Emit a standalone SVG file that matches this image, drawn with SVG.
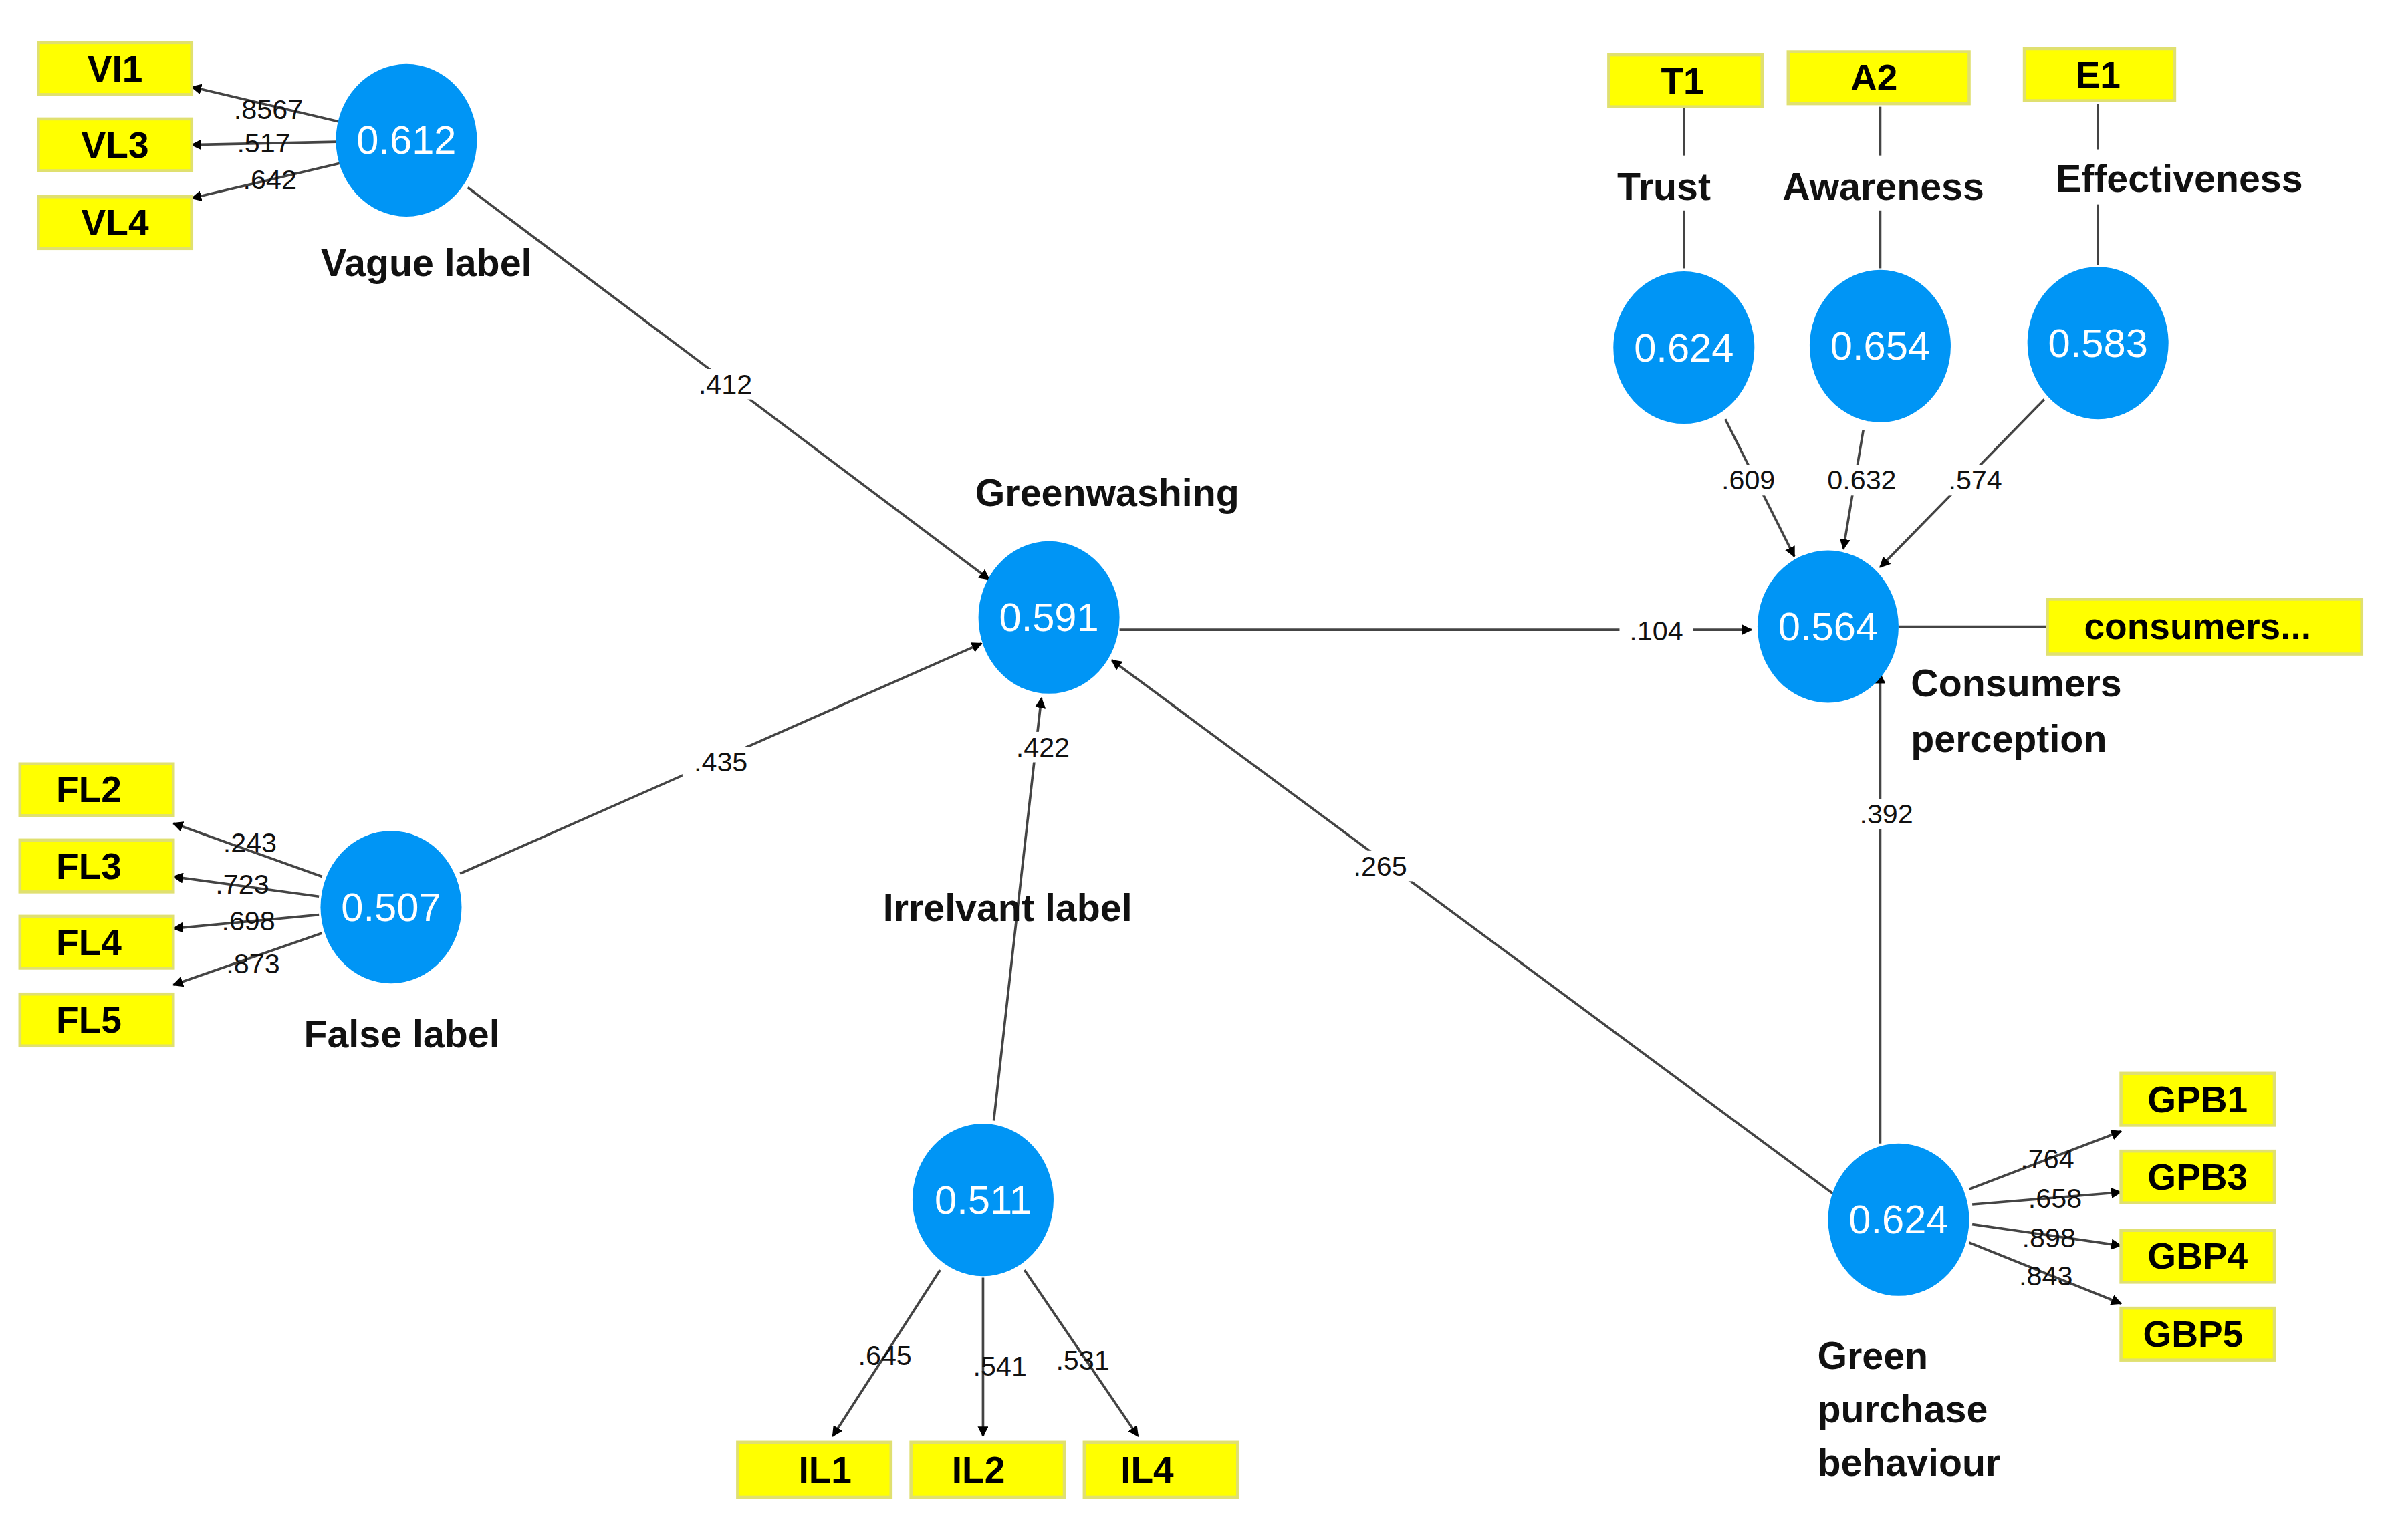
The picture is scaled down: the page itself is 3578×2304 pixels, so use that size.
<svg xmlns="http://www.w3.org/2000/svg" width="3578" height="2304" viewBox="0 0 3578 2304">
<style>
.c{fill:#0095f5}
.cv{font:26px "Liberation Sans",Arial,sans-serif;fill:#fff;text-anchor:middle;dominant-baseline:central}
.b{fill:#ffff00;stroke:#e0e070;stroke-width:2}
.bt{font:bold 24px "Liberation Sans",Arial,sans-serif;fill:#000;text-anchor:middle;dominant-baseline:central}
.lb{font:bold 25px "Liberation Sans",Arial,sans-serif;fill:#111}
.w{font:18px "Liberation Sans",Arial,sans-serif;fill:#111;text-anchor:middle;dominant-baseline:central}
.l{stroke:#444;stroke-width:1.6;fill:none}
.a{marker-end:url(#ar)}
</style>
<defs><marker id="ar" viewBox="0 0 10 10" refX="9" refY="5" markerWidth="7" markerHeight="7" orient="auto" markerUnits="userSpaceOnUse"><path d="M0,0L10,5L0,10z" fill="#000"/></marker></defs>
<rect width="3578" height="2304" fill="#fff"/>
<g transform="scale(2.294,2.281)">
<g id="connectors">
<line class="l a" x1="305" y1="123" x2="645" y2="380"/>
<line class="l a" x1="300" y1="573" x2="640" y2="422"/>
<line class="l a" x1="648" y1="735" x2="679" y2="458"/>
<line class="l a" x1="1198" y1="785" x2="725" y2="433"/>
<line class="l a" x1="730" y1="413" x2="1142" y2="413"/>
<line class="l a" x1="1226" y1="750" x2="1226" y2="442"/>
<line class="l a" x1="1125" y1="275" x2="1170" y2="365"/>
<line class="l a" x1="1215" y1="282" x2="1202" y2="360"/>
<line class="l a" x1="1333" y1="262" x2="1226" y2="372"/>
<line class="l" x1="1098" y1="70" x2="1098" y2="102"/><line class="l" x1="1098" y1="138" x2="1098" y2="176"/>
<line class="l" x1="1226" y1="70" x2="1226" y2="102"/><line class="l" x1="1226" y1="138" x2="1226" y2="176"/>
<line class="l" x1="1368" y1="68" x2="1368" y2="98"/><line class="l" x1="1368" y1="134" x2="1368" y2="174"/>
<line class="l" x1="1238" y1="411" x2="1335" y2="411"/>
<line class="l a" x1="222" y1="80" x2="125" y2="57"/>
<line class="l a" x1="220" y1="93" x2="125" y2="95"/>
<line class="l a" x1="222" y1="107" x2="125" y2="130"/>
<line class="l a" x1="210" y1="575" x2="113" y2="540"/>
<line class="l a" x1="208" y1="588" x2="113" y2="575"/>
<line class="l a" x1="208" y1="600" x2="113" y2="609"/>
<line class="l a" x1="210" y1="612" x2="113" y2="646"/>
<line class="l a" x1="613" y1="833" x2="543" y2="942"/>
<line class="l a" x1="641" y1="838" x2="641" y2="942"/>
<line class="l a" x1="668" y1="833" x2="742" y2="942"/>
<line class="l a" x1="1284" y1="780" x2="1383" y2="742"/>
<line class="l a" x1="1286" y1="790" x2="1383" y2="782"/>
<line class="l a" x1="1286" y1="803" x2="1383" y2="817"/>
<line class="l a" x1="1284" y1="815" x2="1383" y2="855"/>
<g fill="#fff">
<rect x="448" y="242" width="50" height="20"/><rect x="445" y="490" width="50" height="20"/><rect x="657" y="480" width="46" height="20"/><rect x="876" y="558" width="48" height="20"/><rect x="1056" y="404" width="48" height="20"/><rect x="1206" y="524" width="48" height="20"/>
<rect x="1117" y="305" width="46" height="20"/><rect x="1184" y="305" width="60" height="20"/><rect x="1265" y="305" width="46" height="20"/>
</g>
<text class="w" x="473" y="252">.412</text><text class="w" x="470" y="500">.435</text><text class="w" x="680" y="490">.422</text><text class="w" x="900" y="568">.265</text><text class="w" x="1080" y="414">.104</text><text class="w" x="1230" y="534">.392</text>
<text class="w" x="1140" y="315">.609</text><text class="w" x="1214" y="315">0.632</text><text class="w" x="1288" y="315">.574</text>
<text class="w" x="175" y="72">.8567</text><text class="w" x="172" y="94">.517</text><text class="w" x="176" y="118">.642</text>
<text class="w" x="163" y="553">.243</text><text class="w" x="158" y="580">.723</text><text class="w" x="162" y="604">.698</text><text class="w" x="165" y="632">.873</text>
<text class="w" x="577" y="889">.645</text><text class="w" x="652" y="896">.541</text><text class="w" x="706" y="892">.531</text>
<text class="w" x="1335" y="760">.764</text><text class="w" x="1340" y="786">.658</text><text class="w" x="1336" y="812">.898</text><text class="w" x="1334" y="837">.843</text>
</g>
<g id="VL"><ellipse class="c" cx="265" cy="92" rx="46" ry="50"/><text class="cv" x="265" y="92">0.612</text><text class="lb" x="278" y="181" text-anchor="middle">Vague label</text></g>
<g id="GW"><ellipse class="c" cx="684" cy="405" rx="46" ry="50"/><text class="cv" x="684" y="405">0.591</text><text class="lb" x="722" y="332" text-anchor="middle">Greenwashing</text></g>
<g id="FL"><ellipse class="c" cx="255" cy="595" rx="46" ry="50"/><text class="cv" x="255" y="595">0.507</text><text class="lb" x="262" y="687" text-anchor="middle">False label</text></g>
<g id="IL"><ellipse class="c" cx="641" cy="787" rx="46" ry="50"/><text class="cv" x="641" y="787">0.511</text><text class="lb" x="657" y="604" text-anchor="middle">Irrelvant label</text></g>
<g id="TR"><ellipse class="c" cx="1098" cy="228" rx="46" ry="50"/><text class="cv" x="1098" y="228">0.624</text><text class="lb" x="1085" y="131" text-anchor="middle">Trust</text></g>
<g id="AW"><ellipse class="c" cx="1226" cy="227" rx="46" ry="50"/><text class="cv" x="1226" y="227">0.654</text><text class="lb" x="1228" y="131" text-anchor="middle">Awareness</text></g>
<g id="EF"><ellipse class="c" cx="1368" cy="225" rx="46" ry="50"/><text class="cv" x="1368" y="225">0.583</text><text class="lb" x="1421" y="126" text-anchor="middle">Effectiveness</text></g>
<g id="CP"><ellipse class="c" cx="1192" cy="411" rx="46" ry="50"/><text class="cv" x="1192" y="411">0.564</text><text class="lb" x="1246" y="457">Consumers</text><text class="lb" x="1246" y="493">perception</text></g>
<g id="GPB"><ellipse class="c" cx="1238" cy="800" rx="46" ry="50"/><text class="cv" x="1238" y="800">0.624</text><text class="lb" x="1185" y="898">Green</text><text class="lb" x="1185" y="933">purchase</text><text class="lb" x="1185" y="968">behaviour</text></g>
<g id="boxes">
<rect class="b" x="25" y="28" width="100" height="34"/><text class="bt" x="75" y="45">VI1</text>
<rect class="b" x="25" y="78" width="100" height="34"/><text class="bt" x="75" y="95">VL3</text>
<rect class="b" x="25" y="129" width="100" height="34"/><text class="bt" x="75" y="146">VL4</text>
<rect class="b" x="13" y="501" width="100" height="34"/><text class="bt" x="58" y="518">FL2</text>
<rect class="b" x="13" y="551" width="100" height="34"/><text class="bt" x="58" y="568">FL3</text>
<rect class="b" x="13" y="601" width="100" height="34"/><text class="bt" x="58" y="618">FL4</text>
<rect class="b" x="13" y="652" width="100" height="34"/><text class="bt" x="58" y="669">FL5</text>
<rect class="b" x="1049" y="36" width="100" height="34"/><text class="bt" x="1097" y="53">T1</text>
<rect class="b" x="1166" y="34" width="118" height="34"/><text class="bt" x="1222" y="51">A2</text>
<rect class="b" x="1320" y="32" width="98" height="34"/><text class="bt" x="1368" y="49">E1</text>
<rect class="b" x="1335" y="393" width="205" height="36"/><text class="bt" x="1433" y="411">consumers...</text>
<rect class="b" x="1383" y="704" width="100" height="34"/><text class="bt" x="1433" y="721">GPB1</text>
<rect class="b" x="1383" y="755" width="100" height="34"/><text class="bt" x="1433" y="772">GPB3</text>
<rect class="b" x="1383" y="807" width="100" height="34"/><text class="bt" x="1433" y="824">GBP4</text>
<rect class="b" x="1383" y="858" width="100" height="34"/><text class="bt" x="1430" y="875">GBP5</text>
<rect class="b" x="481" y="946" width="100" height="36"/><text class="bt" x="538" y="964">IL1</text>
<rect class="b" x="594" y="946" width="100" height="36"/><text class="bt" x="638" y="964">IL2</text>
<rect class="b" x="707" y="946" width="100" height="36"/><text class="bt" x="748" y="964">IL4</text>
</g>
</g>
</svg>
